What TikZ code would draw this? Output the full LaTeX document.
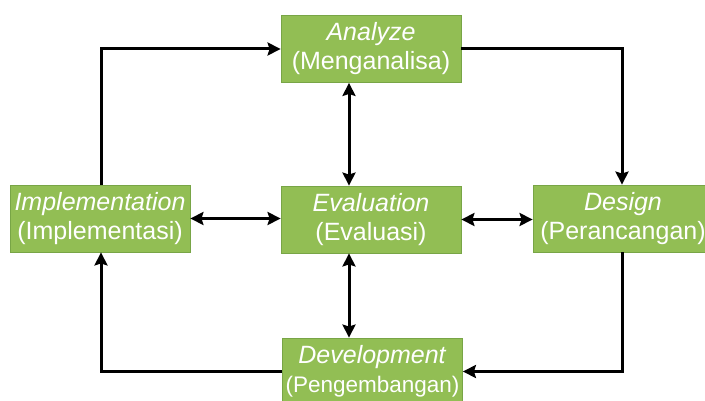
\documentclass[tikz,border=0pt]{standalone}
\usepackage{fontspec}
\setmainfont{Liberation Sans}
\usetikzlibrary{arrows.meta}
\definecolor{boxgreen}{RGB}{146,190,84}
\definecolor{boxedge}{RGB}{120,165,70}
\begin{document}
\begin{tikzpicture}[x=1pt, y=-1pt,
    phase/.style={draw=boxedge, line width=0.8pt, fill=boxgreen, text=white,
        minimum width=180pt, minimum height=67pt, inner sep=0pt, align=center,
        font=\fontsize{25}{29}\selectfont},
    flow/.style={line width=3pt, -{Stealth[length=13pt, width=13pt, inset=2pt]}},
    both/.style={line width=3pt, {Stealth[length=13pt, width=13pt, inset=2pt]}-{Stealth[length=13pt, width=13pt, inset=2pt]}}]
    \useasboundingbox (0,0) rectangle (705,401);

    % 各阶段
    \node[phase] (ana) at (371,49) {\textit{Analyze}\\(Menganalisa)};
    \node[phase] (eva) at (371,219.5) {\textit{Evaluation}\\(Evaluasi)};
    \node[phase] (imp) at (100,218.5) {\textit{Implementation}\\(Implementasi)};
    \node[phase] (des) at (623,218.5) {\textit{Design}\\(Perancangan)};
    \node[phase] (dev) at (372.5,371.5) {\textit{Development}\\{\fontsize{22.5}{29}\selectfont(Pengembangan)}};

    % 外圈循环
    \draw[flow] ([xshift=1pt]imp.north) |- (ana.west);
    \draw[flow] (ana.east) -| ([xshift=-1pt]des.north);
    \draw[flow] ([xshift=-1pt]des.south) |- (dev.west -| dev.east);
    \draw[flow] (dev.west) -| ([xshift=1pt]imp.south);

    % 评估双向箭头
    \draw[both] ([xshift=-22pt]ana.south) -- ([xshift=-22pt]eva.north);
    \draw[both] ([xshift=-22pt]eva.south) -- ([xshift=-23.5pt]dev.north);
    \draw[both] (imp.east) -- (imp.east -| eva.west);
    \draw[both] (eva.east) -- (eva.east -| des.west);
\end{tikzpicture}
\end{document}
